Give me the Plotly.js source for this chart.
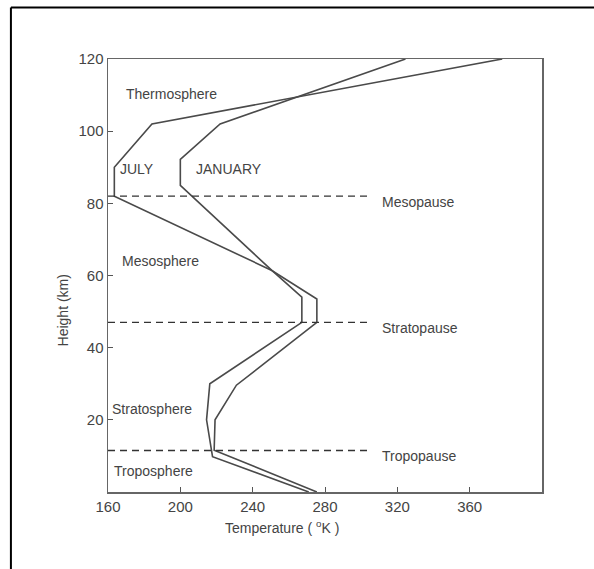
<!DOCTYPE html>
<html>
<head>
<meta charset="utf-8">
<script src="https://cdn.plot.ly/plotly-3.0.1.min.js"></script>
<style>
  html, body { margin: 0; padding: 0; background: #fff; }
  #chart { width: 594px; height: 569px; }
</style>
</head>
<body>
<div id="chart"></div>
<script>
// Mean temperature profiles of the atmosphere (height in km, temperature in K)
const julyTemp    = [275.5, 218.7, 219.2, 231.0, 275.5, 275.5, 250.6, 163.5, 163.5, 184.3, 378.0];
const julyHeight  = [0,     11.6,  20,    29.6,  47,    53.5,  61.4,  82,    90,    102,   120];
const janTemp     = [271.0, 217.8, 214.5, 216.3, 267.2, 267.2, 250.6, 200.0, 200.0, 222.0, 324.5];
const janHeight   = [0,     9.8,   20,    30,    47,    54,    61.4,  85,    92.2,  102,   120];

// Boundary layers drawn as dashed horizontals
const pauseNames   = ['Mesopause', 'Stratopause', 'Tropopause'];
const pauseHeights = [82, 47, 11.5];
const pauseSpan    = [160, 305];

// Layer names
const layerNames   = ['Thermosphere', 'Mesosphere', 'Stratosphere', 'Troposphere'];
const layerTemp    = [194.9, 188.8, 184.6, 185.1];
const layerHeight  = [110.4, 64.0, 22.9, 5.8];

// Series labels
const seriesNames  = ['JULY', 'JANUARY'];
const seriesTemp   = [176.2, 227.1];
const seriesHeight = [89.6, 89.6];

const xTicks = [160, 200, 240, 280, 320, 360];
const yTicks = [20, 40, 60, 80, 100, 120];

const ink = '#4a4a4a';
const textFont = { family: 'Liberation Sans, Arial, sans-serif', size: 14, color: '#444' };
const tickFont = { family: 'Liberation Sans Narrow, Arial Narrow, sans-serif', size: 15, color: '#444' };

const traces = [];
traces.push({
  x: julyTemp, y: julyHeight, mode: 'lines', name: 'July',
  line: { color: ink, width: 1.6 }, hoverinfo: 'x+y'
});
traces.push({
  x: janTemp, y: janHeight, mode: 'lines', name: 'January',
  line: { color: ink, width: 1.6 }, hoverinfo: 'x+y'
});
pauseHeights.forEach((h, i) => {
  traces.push({
    x: pauseSpan, y: [h, h], mode: 'lines', name: pauseNames[i],
    line: { color: '#333', width: 1.3, dash: '7px,5px' }, hoverinfo: 'skip'
  });
});

const annotations = [];
pauseHeights.forEach((h, i) => {
  annotations.push({
    x: 310.3, y: h - 1.6, xref: 'x', yref: 'y', text: pauseNames[i],
    showarrow: false, xanchor: 'left', yanchor: 'middle', font: textFont
  });
});
layerNames.forEach((n, i) => {
  annotations.push({
    x: layerTemp[i], y: layerHeight[i], xref: 'x', yref: 'y', text: n,
    showarrow: false, xanchor: 'center', yanchor: 'middle', font: textFont
  });
});
seriesNames.forEach((n, i) => {
  annotations.push({
    x: seriesTemp[i], y: seriesHeight[i], xref: 'x', yref: 'y', text: n,
    showarrow: false, xanchor: 'center', yanchor: 'middle', font: textFont
  });
});
// Axis titles placed as annotations
annotations.push({
  x: -0.103, y: 0.42, xref: 'paper', yref: 'paper', text: 'Height (km)',
  showarrow: false, textangle: -90, xanchor: 'center', yanchor: 'middle', font: textFont
});
annotations.push({
  x: 0.402, y: -0.08, xref: 'paper', yref: 'paper', text: 'Temperature ( <sup>o</sup>K )',
  showarrow: false, xanchor: 'center', yanchor: 'middle', font: textFont
});

const layout = {
  width: 594, height: 569,
  margin: { l: 108, r: 52, t: 58.5, b: 77, pad: 0 },
  paper_bgcolor: '#fff', plot_bgcolor: '#fff',
  showlegend: false,
  xaxis: {
    range: [160, 400], tickvals: xTicks, ticks: 'inside', ticklen: 5, tickcolor: '#555',
    showline: true, mirror: true, linecolor: '#666', linewidth: 1.5,
    showgrid: false, zeroline: false, tickfont: tickFont
  },
  yaxis: {
    range: [0, 120], tickvals: yTicks, ticks: 'inside', ticklen: 5, tickcolor: '#555',
    showline: true, mirror: true, linecolor: '#666', linewidth: 1.5,
    showgrid: false, zeroline: false, tickfont: tickFont
  },
  annotations: annotations,
  shapes: [
    // page frame: top and left rules
    { type: 'line', xref: 'paper', yref: 'paper', x0: -0.2237, x1: 1.13, y0: 1.1188, y1: 1.1188,
      line: { color: '#000', width: 2 } },
    { type: 'line', xref: 'paper', yref: 'paper', x0: -0.2237, x1: -0.2237, y0: 1.1188, y1: -0.19,
      line: { color: '#000', width: 2 } }
  ]
};

Plotly.newPlot('chart', traces, layout, { displayModeBar: false, staticPlot: true });
</script>
</body>
</html>
